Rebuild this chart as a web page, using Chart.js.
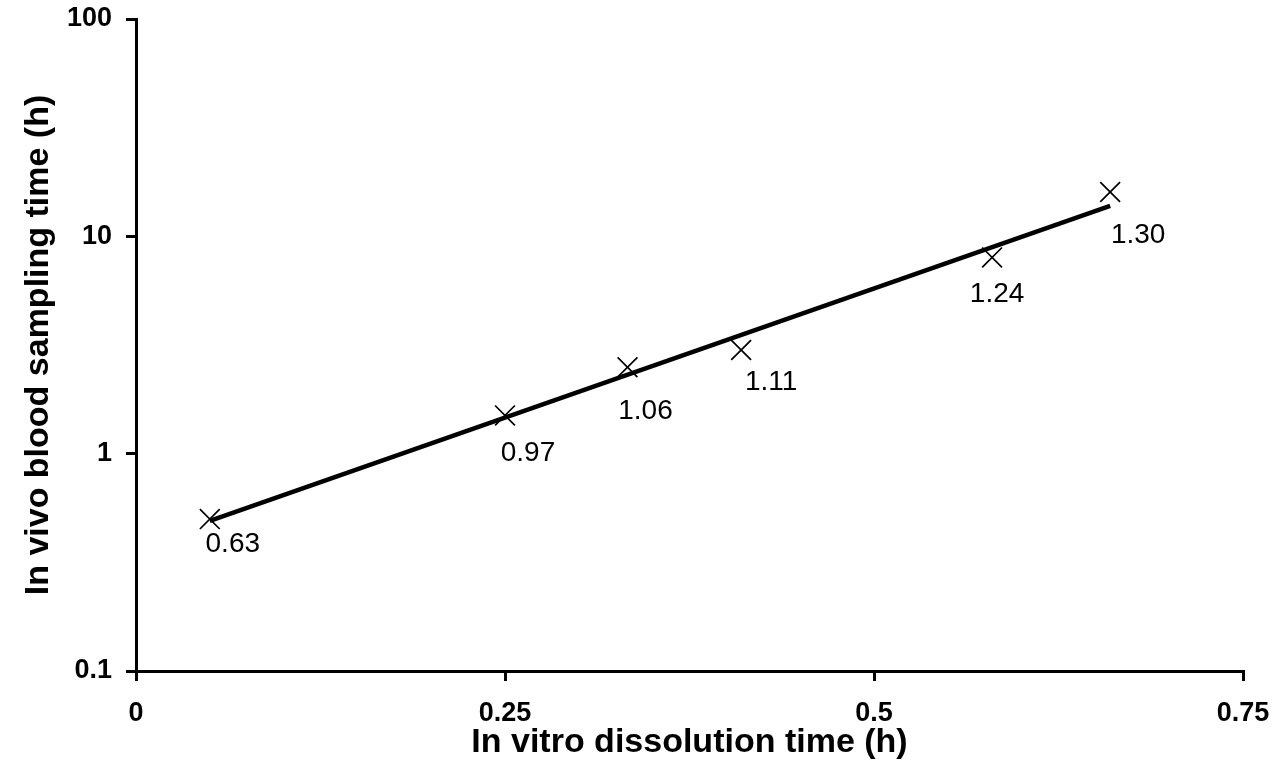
<!DOCTYPE html>
<html>
<head>
<meta charset="utf-8">
<script src="https://cdn.jsdelivr.net/npm/chart.js@4/dist/chart.umd.min.js"></script>
<style>
  html, body { margin: 0; padding: 0; background: #fff; }
  canvas { display: block; }
</style>
</head>
<body>
<canvas id="c" width="1275" height="783"></canvas>
<script>
// ---- data ----
const dissolutionTime = [0.05, 0.25, 0.333, 0.41, 0.58, 0.66];   // x (h)
const bloodSamplingTime = [0.5, 1.5, 2.5, 3, 8, 16];              // y (h)
const pointLabels = ['0.63', '0.97', '1.06', '1.11', '1.24', '1.30'];
const trendX = [0.05, 0.66];
const trendY = [0.49, 13.8];
const xTicks = [0, 0.25, 0.5, 0.75];
const yTicks = [0.1, 1, 10, 100];
const xTitle = 'In vitro dissolution time (h)';
const yTitle = 'In vivo blood sampling time (h)';

// ---- label placement (style, not data) ----
const labelOffsets = [[23, 25], [23, 38], [18, 44], [30, 32], [5, 37], [28, 43]];

const FONT = "'Liberation Sans', Arial, Helvetica, sans-serif";

const labelPlugin = {
  id: 'pointLabels',
  afterDatasetsDraw(chart) {
    const meta = chart.getDatasetMeta(0);
    const ctx = chart.ctx;
    ctx.save();
    ctx.fillStyle = '#000';
    ctx.font = '28px ' + FONT;
    ctx.textAlign = 'center';
    ctx.textBaseline = 'middle';
    meta.data.forEach((el, i) => {
      const o = labelOffsets[i];
      ctx.fillText(pointLabels[i], el.x + o[0], el.y + o[1]);
    });
    ctx.restore();
  }
};

new Chart(document.getElementById('c'), {
  data: {
    datasets: [
      {
        type: 'scatter',
        data: dissolutionTime.map((x, i) => ({ x, y: bloodSamplingTime[i] })),
        pointStyle: 'crossRot',
        pointRadius: 14,
        pointBorderWidth: 1.7,
        borderColor: '#000',
        backgroundColor: '#000',
        showLine: false
      },
      {
        type: 'line',
        data: trendX.map((x, i) => ({ x, y: trendY[i] })),
        borderColor: '#000',
        borderWidth: 4.5,
        pointRadius: 0,
        fill: false,
        tension: 0
      }
    ]
  },
  options: {
    responsive: false,
    devicePixelRatio: 1,
    animation: false,
    layout: { padding: { top: 19, right: 32, left: 0, bottom: 0 } },
    plugins: {
      legend: { display: false },
      tooltip: { enabled: false }
    },
    scales: {
      x: {
        type: 'linear',
        min: 0,
        max: 0.75,
        afterBuildTicks: (axis) => { axis.ticks = xTicks.map(v => ({ value: v })); },
        afterFit: (scale) => { scale.height = 112; scale.paddingLeft = 0; scale.paddingRight = 0; },
        ticks: {
          color: '#000',
          font: { family: FONT, size: 27, weight: 'bold' },
          padding: 16,
          maxRotation: 0,
          callback: (v) => String(v)
        },
        border: { display: true, color: '#000', width: 3 },
        grid: { display: true, drawOnChartArea: false, drawTicks: true, tickLength: 10, color: '#000', lineWidth: 3 },
        title: {
          display: true,
          text: xTitle,
          color: '#000',
          font: { family: FONT, size: 34, weight: 'bold' },
          padding: { top: 0, bottom: 20 }
        }
      },
      y: {
        type: 'logarithmic',
        min: 0.1,
        max: 100,
        afterBuildTicks: (axis) => { axis.ticks = yTicks.map(v => ({ value: v })); },
        afterFit: (scale) => { scale.width = 136; scale.paddingTop = 0; scale.paddingBottom = 0; },
        ticks: {
          color: '#000',
          font: { family: FONT, size: 27, weight: 'bold' },
          padding: 14,
          autoSkip: false,
          callback: (v) => String(v)
        },
        border: { display: true, color: '#000', width: 3 },
        grid: { display: true, drawOnChartArea: false, drawTicks: true, tickLength: 10, color: '#000', lineWidth: 3 },
        title: {
          display: true,
          text: yTitle,
          color: '#000',
          font: { family: FONT, size: 34, weight: 'bold' },
          padding: { top: 18, bottom: 0 }
        }
      }
    }
  },
  plugins: [labelPlugin]
});
</script>
</body>
</html>
